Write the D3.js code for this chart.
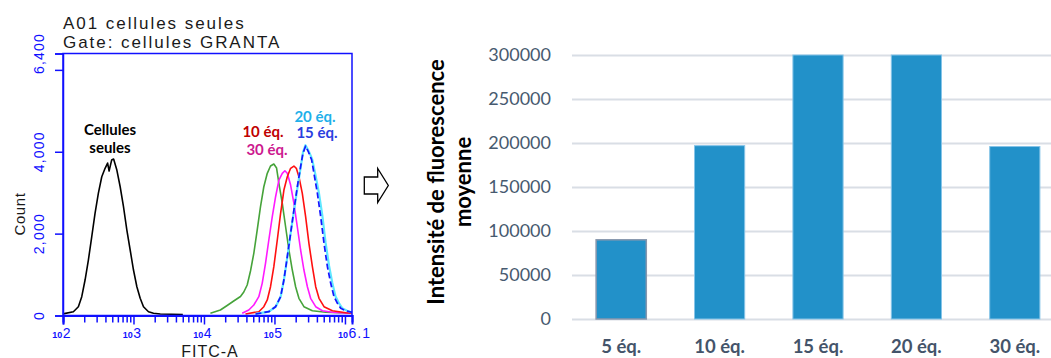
<!DOCTYPE html>
<html><head><meta charset="utf-8">
<script src="https://cdn.jsdelivr.net/npm/d3@7/dist/d3.min.js"></script>
<style>body{margin:0;background:#fff}svg{display:block}</style>
</head><body>
<svg id="chart" width="1051" height="358"></svg>
<script>
// ---------- DATA ----------
// Flow cytometry histogram: [log10(FITC-A), count]
const histTitle = ["A01 cellules seules", "Gate: cellules GRANTA"];
const histXLabel = "FITC-A";
const histYLabel = "Count";
const histXDomainExp = [2, 6.1];
const histXMajorExp = [2, 3, 4, 5, 6];
const histXLabelExp = ["2", "3", "4", "5", "6.1"];
const histYMax = 6400;
const histYTicks = [0, 2000, 4000, 6000, 6400];
const histYTickLabels = [0, 2000, 4000, 6400];

const curveCellules = [[2.00,40],[2.147,93],[2.218,215],[2.266,459],[2.313,867],[2.36,1355],[2.408,1924],[2.455,2503],[2.502,2991],[2.55,3390],[2.597,3595],[2.633,3724],[2.654,3529],[2.69,3797],[2.718,3822],[2.764,3553],[2.811,3145],[2.858,2657],[2.906,2088],[2.953,1600],[3.0,1111],[3.048,703],[3.095,420],[3.142,215],[3.213,93],[3.284,54],[3.38,37],[3.7,25]];
const curve5eq = [[4.091,54],[4.233,134],[4.329,244],[4.422,354],[4.518,464],[4.565,574],[4.613,745],[4.66,1087],[4.707,1519],[4.755,2088],[4.802,2657],[4.849,3145],[4.898,3473],[4.944,3651],[4.991,3700],[5.03,3602],[5.063,3228],[5.111,2740],[5.158,2168],[5.205,1600],[5.253,1111],[5.3,703],[5.347,420],[5.418,215],[5.538,117],[5.727,78],[5.916,68],[6.083,61]];
const curve30eq = [[4.542,54],[4.636,134],[4.707,256],[4.778,459],[4.826,786],[4.873,1275],[4.92,1844],[4.969,2413],[5.016,2901],[5.063,3309],[5.111,3473],[5.148,3536],[5.182,3473],[5.229,3187],[5.276,2740],[5.324,2168],[5.371,1600],[5.418,1111],[5.467,703],[5.513,420],[5.585,215],[5.68,117],[5.822,78],[6.09,54]];
const curve10eq = [[4.589,37],[4.778,93],[4.849,215],[4.898,379],[4.944,703],[4.991,1192],[5.04,1844],[5.087,2496],[5.134,3065],[5.182,3390],[5.229,3595],[5.276,3651],[5.31,3595],[5.347,3390],[5.395,2984],[5.442,2413],[5.489,1763],[5.538,1192],[5.585,703],[5.632,420],[5.703,215],[5.822,117],[6.011,68],[6.1,54]];
const curve20eq = [[4.73,40],[4.92,95],[5.02,220],[5.09,470],[5.135,880],[5.185,1450],[5.23,2020],[5.28,2590],[5.33,3160],[5.375,3650],[5.405,3990],[5.44,4160],[5.485,4020],[5.535,3820],[5.575,3490],[5.63,3000],[5.68,2430],[5.725,1780],[5.775,1210],[5.82,800],[5.865,470],[5.915,300],[5.96,180],[6.03,115],[6.1,75]];
const curve15eq = [[4.731,37],[4.92,93],[5.016,215],[5.087,459],[5.134,867],[5.182,1436],[5.229,2007],[5.276,2576],[5.324,3145],[5.371,3634],[5.404,3961],[5.442,4139],[5.481,4000],[5.528,3797],[5.56,3473],[5.609,2984],[5.656,2413],[5.703,1763],[5.751,1192],[5.798,786],[5.845,459],[5.893,298],[5.94,176],[6.011,117],[6.1,78]];

// Bar chart
const barCategories = ["5 éq.", "10 éq.", "15 éq.", "20 éq.", "30 éq."];
const barValues = [90000, 197000, 300000, 300000, 196000];
const barTicks = [0, 50000, 100000, 150000, 200000, 250000, 300000];
const barYTitle = ["Intensité de fluorescence", "moyenne"];

// ---------- DRAW ----------
const svg = d3.select("#chart");
const BLUE = "#1010ff";

// ===== Left: histogram =====
const hx = d3.scaleLog().domain(histXDomainExp.map(e => Math.pow(10, e))).range([63, 352]);
const hy = d3.scaleLinear().domain([0, histYMax]).range([315.5, 53.5]);
const gh = svg.append("g");

// title
gh.selectAll("text.title").data(histTitle).join("text")
  .attr("x", 63).attr("y", (d, i) => 29 + i * 19)
  .attr("font-family", "Liberation Sans, Arial, sans-serif").attr("font-size", 17)
  .attr("letter-spacing", 1.95).attr("fill", "#1a1a1a").text(d => d);

// curves
const line = d3.line().x(d => hx(Math.pow(10, d[0]))).y(d => hy(d[1]));
const curves = [
  {data: curveCellules, color: "#000000", dash: null, w: 1.6},
  {data: curve5eq, color: "#46a33a", dash: null, w: 1.6},
  {data: curve30eq, color: "#ff1aff", dash: null, w: 1.6},
  {data: curve10eq, color: "#ff1010", dash: null, w: 1.6},
  {data: curve20eq, color: "#5fe8ff", dash: null, w: 2.2},
  {data: curve15eq, color: "#1515ff", dash: "6,3", w: 1.7},
];
gh.selectAll("path.curve").data(curves).join("path")
  .attr("d", d => line(d.data)).attr("fill", "none")
  .attr("stroke", d => d.color).attr("stroke-width", d => d.w)
  .attr("stroke-dasharray", d => d.dash).attr("stroke-linejoin", "round");

// frame
gh.append("rect").attr("x", 63).attr("y", 53.5).attr("width", 289).attr("height", 262)
  .attr("fill", "none").attr("stroke", BLUE).attr("stroke-width", 1.5);

// x axis minor ticks
const minorVals = [];
for (let p = 2; p <= 5; p++) for (let m = 2; m <= 9; m++) minorVals.push(m * Math.pow(10, p));
const axMinor = gh.append("g").attr("transform", "translate(0,315.5)")
  .call(d3.axisBottom(hx).tickValues(minorVals).tickSize(7).tickFormat(""));
const axMajor = gh.append("g").attr("transform", "translate(0,315.5)")
  .call(d3.axisBottom(hx).tickValues(histXMajorExp.map(e => Math.pow(10, e))).tickSize(9).tickFormat(""));
[axMinor, axMajor].forEach(a => {
  a.select(".domain").attr("stroke", BLUE).attr("stroke-width", 2);
  a.selectAll(".tick line").attr("stroke", BLUE).attr("stroke-width", 1.5);
});
// x labels: "10" + exponent
const xl = gh.selectAll("text.xl").data(histXLabelExp).join("text")
  .attr("font-family", "Liberation Sans, Arial, sans-serif").attr("fill", BLUE)
  .attr("y", 338)
  .attr("x", d => {
    const v = Math.pow(10, +d);
    return d.includes(".") ? hx(v) - 14 : hx(v) - 10.7;
  });
xl.append("tspan").attr("font-size", 9).attr("font-weight", "bold").text("10");
xl.append("tspan").attr("font-size", 14).attr("dx", 0.5).attr("letter-spacing", 1).text(d => d);

gh.append("text").attr("x", 210).attr("y", 356.5).attr("text-anchor", "middle")
  .attr("font-family", "Liberation Sans, Arial, sans-serif").attr("font-size", 16)
  .attr("letter-spacing", 1).attr("fill", "#1a1a1a").text(histXLabel);

// y axis
const ay = gh.append("g").attr("transform", "translate(63,0)")
  .call(d3.axisLeft(hy).tickValues(histYTicks).tickSize(8).tickFormat(""));
ay.select(".domain").attr("stroke", BLUE).attr("stroke-width", 1.5);
ay.selectAll(".tick line").attr("stroke", BLUE).attr("stroke-width", 1.5);
gh.selectAll("text.yl").data(histYTickLabels).join("text")
  .attr("transform", d => `translate(44,${hy(d)}) rotate(-90)`)
  .attr("text-anchor", "middle").attr("font-family", "Liberation Sans, Arial, sans-serif")
  .attr("font-size", 14).attr("letter-spacing", 1.2).attr("fill", BLUE)
  .text(d => d3.format(",")(d));
gh.append("text").attr("transform", "translate(25,214) rotate(-90)")
  .attr("text-anchor", "middle").attr("font-family", "Liberation Sans, Arial, sans-serif")
  .attr("font-size", 15).attr("letter-spacing", 0.6).attr("fill", "#1a1a1a").text(histYLabel);

// annotations
const ann = [
  {t: "Cellules", x: 110, y: 135, c: "#000000"},
  {t: "seules", x: 110, y: 153, c: "#000000"},
  {t: "10 éq.", x: 263, y: 137, c: "#c00000"},
  {t: "30 éq.", x: 267, y: 155, c: "#cc1a8f"},
  {t: "20 éq.", x: 315, y: 122, c: "#1fb0ea"},
  {t: "15 éq.", x: 317, y: 138, c: "#2a3ee0"},
];
gh.selectAll("text.ann").data(ann).join("text")
  .attr("x", d => d.x).attr("y", d => d.y).attr("text-anchor", "middle")
  .attr("font-family", "Lato, sans-serif").attr("font-weight", "bold").attr("font-size", 15)
  .attr("fill", d => d.c).text(d => d.t);

// ===== Arrow =====
svg.append("path")
  .attr("d", "M364.3,177 L377.7,177 L377.7,168.5 L388.3,185.5 L377.7,202.5 L377.7,194 L364.3,194 Z")
  .attr("fill", "#fff").attr("stroke", "#000").attr("stroke-width", 1.3).attr("stroke-linejoin", "miter");

// ===== Right: bar chart =====
const bx = d3.scaleBand().domain(barCategories).range([572, 1064]).paddingInner(0.49).paddingOuter(0.245);
const by = d3.scaleLinear().domain([0, 300000]).range([319, 55]);
const gb = svg.append("g");

const ya = gb.append("g").attr("transform", "translate(572,0)")
  .call(d3.axisLeft(by).tickValues(barTicks).tickSize(-480).tickPadding(21).tickFormat(d3.format("d")));
ya.select(".domain").remove();
ya.selectAll(".tick line").attr("stroke", "#d9dee5").attr("stroke-width", 2);
ya.selectAll(".tick text").attr("font-family", "Lato, sans-serif").attr("font-size", 18)
  .attr("fill", "#475a6f");

gb.selectAll("rect.bar").data(barValues).join("rect")
  .attr("x", (d, i) => bx(barCategories[i])).attr("width", bx.bandwidth())
  .attr("y", d => by(d)).attr("height", d => by(0) - by(d))
  .attr("fill", "#2291c9")
  .attr("stroke", (d, i) => i === 0 ? "#8797ad" : "#86c4e8")
  .attr("stroke-width", (d, i) => i === 0 ? 1.5 : 1);

const xa = gb.append("g").attr("transform", "translate(0,319)")
  .call(d3.axisBottom(bx).tickSize(0).tickPadding(0));
xa.select(".domain").remove();
xa.selectAll(".tick text").attr("y", 34).attr("dy", 0)
  .attr("font-family", "Lato, sans-serif").attr("font-weight", "bold").attr("font-size", 18.5)
  .attr("fill", "#44546a");

gb.selectAll("text.ytitle").data(barYTitle).join("text")
  .attr("transform", (d, i) => `translate(${i === 0 ? 443.5 : 471},182) rotate(-90)`)
  .attr("text-anchor", "middle").attr("font-family", "Lato, sans-serif")
  .attr("font-weight", "bold").attr("font-size", 22).attr("fill", "#000").text(d => d);
</script>
</body></html>
